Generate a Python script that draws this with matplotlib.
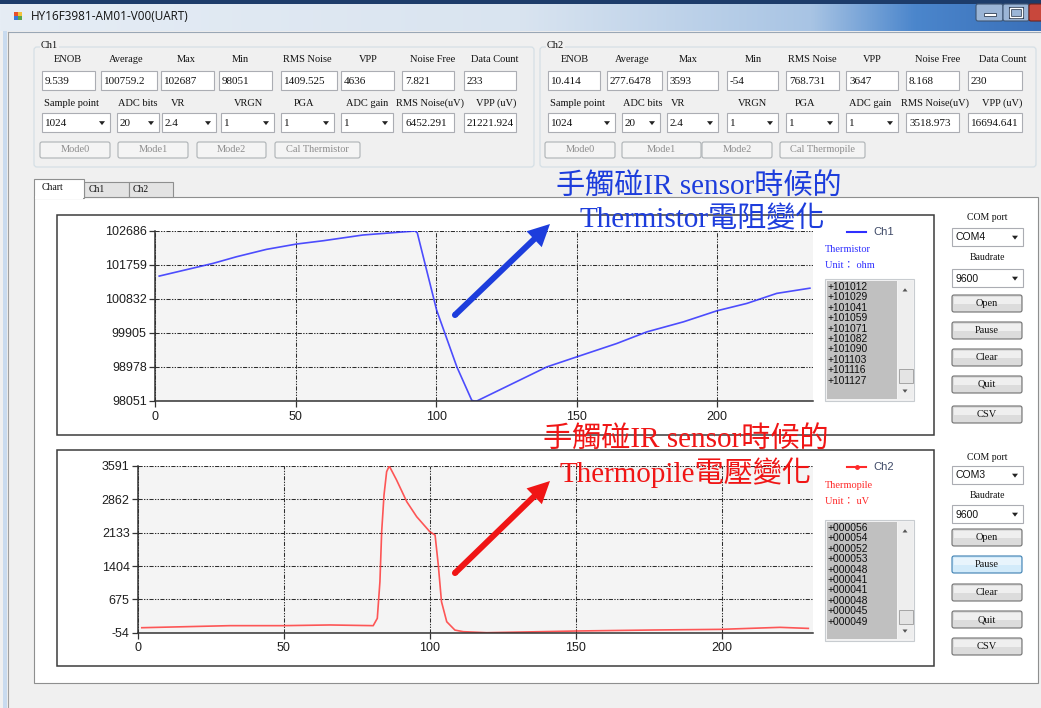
import matplotlib
matplotlib.use("Agg")
import matplotlib.pyplot as plt
import numpy as np
from matplotlib.patches import Rectangle, FancyBboxPatch, Polygon, FancyArrow, Circle
from matplotlib.colors import to_rgb

plt.rcParams["axes.unicode_minus"] = False

# ---- readings captured from the two channels ----
ch1_idx = [1.5, 20.7, 29, 39.7, 50.4, 59.9, 74, 92.5, 93.3, 100.2, 107.4, 112.7,
           113.5, 114.5, 139.4, 150, 164.3, 175, 188, 199.9, 210.6, 221.2, 233]
ch1_ohm = [101457, 101804, 101984, 102186, 102331, 102421, 102577, 102686, 102640,
           100528, 98980, 98070, 98051, 98051, 98980, 99253, 99619, 99936, 100209,
           100510, 100712, 100985, 101127]

ch2_idx = [1.3, 31.5, 49.8, 65.8, 80.6, 82, 82.9, 83.5, 84.3, 85.2, 86.1, 88.6,
           92.1, 95.5, 100, 101.8, 102.9, 104, 105.8, 108.6, 111.5, 119.5, 150,
           176.6, 199.5, 220, 229.7]
ch2_uv = [55, 100, 100, 115, 100, 260, 1060, 2154, 2957, 3467, 3591, 3285, 2810,
          2482, 2154, 2081, 1425, 623, 185, 3, -32, -54, -17, 5, 19, 63, 40]

ch1_yticks = [98051, 98978, 99905, 100832, 101759, 102686]
ch2_yticks = [-54, 675, 1404, 2133, 2862, 3591]
x_ticks = [0, 50, 100, 150, 200]

stat_names = ["ENOB", "Average", "Max", "Min", "RMS Noise", "VPP", "Noise Free", "Data Count"]
ch1_stats = ["9.539", "100759.2", "102687", "98051", "1409.525", "4636", "7.821", "233"]
ch2_stats = ["10.414", "277.6478", "3593", "-54", "768.731", "3647", "8.168", "230"]

setting_names = ["Sample point", "ADC bits", "VR", "VRGN", "PGA", "ADC gain",
                 "RMS Noise(uV)", "VPP (uV)"]
setting_values = ["1024", "20", "2.4", "1", "1", "1"]
ch1_noise_uv = ["6452.291", "21221.924"]
ch2_noise_uv = ["3518.973", "16694.641"]

ch1_list = ["+101012", "+101029", "+101041", "+101059", "+101071",
            "+101082", "+101090", "+101103", "+101116", "+101127"]
ch2_list = ["+000056", "+000054", "+000052", "+000053", "+000048",
            "+000041", "+000041", "+000048", "+000045", "+000049"]

W, H = 1041, 708
SERIF = ["Liberation Serif", "DejaVu Serif"]
SANS = ["Liberation Sans", "DejaVu Sans"]
CJK = ["Liberation Serif", "Noto Sans CJK TC", "DejaVu Sans"]

fig = plt.figure(figsize=(W / 100, H / 100), dpi=100)


def px_axes(z):
    a = fig.add_axes([0, 0, 1, 1], zorder=z)
    a.set_xlim(0, W)
    a.set_ylim(H, 0)
    a.axis("off")
    a.patch.set_alpha(0)
    return a


def frac(x0, y0, x1, y1):
    return [x0 / W, 1 - y1 / H, (x1 - x0) / W, (y1 - y0) / H]


ui = px_axes(0)
top = px_axes(3)


def rect(x0, y0, x1, y1, fc, ec="none", lw=0.8, z=1, ax=ui):
    ax.add_patch(Rectangle((x0, y0), x1 - x0, y1 - y0, fc=fc, ec=ec, lw=lw, zorder=z))


def rrect(x0, y0, x1, y1, fc, ec, r=2, lw=0.8, z=2):
    ui.add_patch(FancyBboxPatch((x0, y0), x1 - x0, y1 - y0,
                                boxstyle=f"round,pad=0,rounding_size={r}",
                                fc=fc, ec=ec, lw=lw, zorder=z))


def label(x, y, s, ha="center", size=7.5, color="#111111", family=SERIF, z=5, ax=ui):
    ax.text(x, y, s, ha=ha, va="center", fontsize=size, color=color,
            family=family, zorder=z)


def textbox(x0, y0, x1, y1, s, family=SERIF, size=8):
    rect(x0, y0, x1, y1, "white", "#abadb3", 0.8, z=2)
    label(x0 + 3, (y0 + y1) / 2 + 0.5, s, ha="left", size=size, family=family)


def down_tri(cx, cy, color="#222222", s=3):
    ui.add_patch(Polygon([[cx - s, cy - s * 0.6], [cx + s, cy - s * 0.6], [cx, cy + s * 0.7]],
                         closed=True, fc=color, ec="none", zorder=4))


def up_tri(cx, cy, color="#555555", s=3):
    ui.add_patch(Polygon([[cx - s, cy + s * 0.6], [cx + s, cy + s * 0.6], [cx, cy - s * 0.7]],
                         closed=True, fc=color, ec="none", zorder=4))


def combo(x0, y0, x1, y1, s, family=SERIF, size=8):
    textbox(x0, y0, x1, y1, s, family, size)
    down_tri(x1 - 8, (y0 + y1) / 2 + 0.5)


def button(x0, y0, x1, y1, s, state="normal"):
    if state == "disabled":
        rrect(x0, y0, x1, y1, "#f4f4f4", "#adb2b5")
        label((x0 + x1) / 2, (y0 + y1) / 2, s, size=7.5, color="#8d8d8d")
        return
    if state == "hot":
        rrect(x0, y0, x1, y1, "#d3ebfa", "#3c7fb1")
        rect(x0 + 1.5, y0 + 1.5, x1 - 1.5, (y0 + y1) / 2, "#e8f4fc", z=3)
    else:
        rrect(x0, y0, x1, y1, "#dcdcdc", "#707070")
        rect(x0 + 1.5, y0 + 1.5, x1 - 1.5, (y0 + y1) / 2, "#efefef", z=3)
    label((x0 + x1) / 2, (y0 + y1) / 2, s, size=7.5)


# ---- window chrome ----
stops = [0, 0.5, 0.78, 0.88, 1.0]
cols = ["#e6edf5", "#d9e4f0", "#a8c4e4", "#4b86cc", "#3a70b9"]
xs = np.linspace(0, 1, 400)
grad = np.array([np.interp(xs, stops, [to_rgb(c)[k] for c in cols]) for k in range(3)]).T
ui.imshow(grad[None, :, :], extent=(0, W, 31, 4), aspect="auto", zorder=0)
ui.set_xlim(0, W)
ui.set_ylim(H, 0)
rect(0, 0, W, 4, "#1d3c6a", z=1)
rect(0, 31, W, H, "#f0f0f0", z=0.5)
rect(3, 31, 7, H, "#c9dbef", z=1)
ui.plot([8, W], [32, 32], color="#9aa7b5", lw=0.8, zorder=1)
ui.plot([8, 8], [32, H], color="#a0a0a0", lw=0.8, zorder=1)

# title bar icon, caption and buttons
rect(14, 12, 18, 16, "#e8502c", z=2)
rect(18, 12, 22, 16, "#f2c23a", z=2)
rect(14, 16, 18, 20, "#3b78d8", z=2)
rect(18, 16, 22, 20, "#58a64a", z=2)
label(31, 17, "HY16F3981-AM01-V00(UART)", ha="left", size=8.5, family=["Open Sans", "DejaVu Sans"])
rrect(976, 4, 1003, 21, "#9bb5d6", "#3e5573", r=2)
rrect(1003, 4, 1029, 21, "#9bb5d6", "#3e5573", r=2)
rrect(1029, 4, 1050, 21, "#c8473c", "#6d241f", r=2)
rect(984, 13, 996, 16, "white", "#303f55", 0.6, z=3)
rect(1010, 8, 1022, 17, "none", "#303f55", 2.2, z=3)
rect(1010, 8, 1022, 17, "none", "white", 1.0, z=3)

# ---- Ch1 / Ch2 settings group boxes ----
ch1_label_x = [68, 126, 186, 240, 307, 368, 433, 495]
ch1_boxes = [(42, 95), (101, 157), (161, 214), (219, 272), (281, 337), (341, 394), (402, 454), (464, 516)]
ch1_set_x = [71, 138, 178, 248, 304, 367, 430, 496]
ch1_combo = [(42, 110), (117, 159), (162, 216), (221, 274), (281, 334), (341, 393)]
ch1_btns = [(40, 110, "Mode0"), (118, 188, "Mode1"), (197, 266, "Mode2"), (275, 360, "Cal Thermistor")]

ch2_label_x = [575, 632, 688, 753, 812, 872, 938, 1003]
ch2_boxes = [(548, 600), (607, 662), (667, 718), (727, 778), (786, 839), (846, 898), (906, 959), (968, 1022)]
ch2_set_x = [577, 643, 678, 752, 805, 870, 935, 1002]
ch2_combo = [(548, 615), (622, 660), (667, 718), (727, 778), (786, 838), (846, 898)]
ch2_btns = [(545, 615, "Mode0"), (622, 701, "Mode1"), (702, 772, "Mode2"), (780, 865, "Cal Thermopile")]


def settings_group(x0, x1, title, lab_x, boxes, stats, set_x, combos, noise, btns):
    rrect(x0, 47, x1, 167, "none", "#d5dfe5", r=3, lw=0.9, z=1)
    ui.text(x0 + 7, 45, title, ha="left", va="center", fontsize=7.5, family=SERIF,
            color="#111111", zorder=5,
            bbox=dict(fc="#f0f0f0", ec="none", pad=0.5))
    for lx, name in zip(lab_x, stat_names):
        label(lx, 60, name)
    for (bx0, bx1), val in zip(boxes, stats):
        textbox(bx0, 71, bx1, 90, val)
    for lx, name in zip(set_x, setting_names):
        label(lx, 103, name)
    for (bx0, bx1), val in zip(combos, setting_values):
        combo(bx0, 113, bx1, 132, val)
    for (bx0, bx1), val in zip(boxes[6:], noise):
        textbox(bx0, 113, bx1, 132, val)
    for bx0, bx1, name in btns:
        button(bx0, 142, bx1, 158, name, state="disabled")


settings_group(34, 534, "Ch1", ch1_label_x, ch1_boxes, ch1_stats, ch1_set_x,
               ch1_combo, ch1_noise_uv, ch1_btns)
settings_group(540, 1036, "Ch2", ch2_label_x, ch2_boxes, ch2_stats, ch2_set_x,
               ch2_combo, ch2_noise_uv, ch2_btns)

# ---- tab control ----
rect(34, 197, 1038, 683, "white", "#8e8f8f", 0.8, z=1)
rect(84, 182, 129, 197, "#e3e3e3", "#8e8f8f", 0.8, z=1)
rect(129, 182, 173, 197, "#e3e3e3", "#8e8f8f", 0.8, z=1)
rect(34, 179, 84, 198, "white", "#8e8f8f", 0.8, z=2)
rect(34.6, 196, 83.4, 199, "white", z=3)
label(53, 188, "Chart", size=7)
label(97, 190, "Ch1", size=7)
label(141, 190, "Ch2", size=7)

# chart frames
rect(57, 215, 934, 435, "white", "#3c3c3c", 1.1, z=2)
rect(57, 450, 934, 666, "white", "#3c3c3c", 1.1, z=2)


def chart(box, xs, ys, color, yticks, xmax):
    ax = fig.add_axes(frac(*box), zorder=1)
    ax.plot(xs, ys, color=color, lw=1.2, alpha=0.85, solid_joinstyle="round")
    ax.set_xlim(0, xmax)
    ax.set_ylim(yticks[0], yticks[-1])
    ax.set_xticks(x_ticks)
    ax.set_yticks(yticks)
    ax.set_facecolor("#f4f4f4")
    ax.grid(True, color="#2e2e2e", lw=0.75, ls=(0, (4, 1.3, 1.3, 1.3, 1.3, 1.3)))
    ax.set_axisbelow(True)
    for side in ("top", "right"):
        ax.spines[side].set_visible(False)
    for side in ("left", "bottom"):
        ax.spines[side].set_color("#333333")
        ax.spines[side].set_linewidth(1.1)
    ax.tick_params(length=4, width=0.9, color="#333333", labelsize=9,
                   labelcolor="#1e1e1e", pad=2)
    ax.tick_params(axis="x", pad=3)
    for t in ax.get_xticklabels() + ax.get_yticklabels():
        t.set_fontfamily(SANS)
    return ax


chart((155, 231, 812.7, 401), ch1_idx, ch1_ohm, "#2f2fff", ch1_yticks, 234)
chart((138, 466, 812.7, 632.7), ch2_idx, ch2_uv, "#ff3a3a", ch2_yticks, 231.2)


# ---- legends and data list boxes ----
def legend_block(y_line, name, color, sensor, unit, dot):
    ui.plot([847, 856.5, 866], [y_line] * 3, color=color, lw=1.5, zorder=4,
            marker="o" if dot else None, markevery=[1], ms=2.5)
    label(873, y_line, name, ha="left", size=8, color="#3d4866", family=SANS)
    label(825, y_line + 18, sensor, ha="left", size=7.5, color=color)
    label(825, y_line + 34, unit, ha="left", size=7.5, color=color, family=CJK)


def list_box(y0, y1, values, thumb):
    rect(825, y0, 914, y1, "#f3f3f3", "#c8ccd0", 0.8, z=2)
    rect(827, y0 + 2, 897, y1 - 2, "#c0c0c0", z=3)
    rect(898, y0 + 2, 913, y1 - 2, "#eeeeee", z=3)
    up_tri(905, y0 + 11, s=2.5)
    down_tri(905, y1 - 10, color="#555555", s=2.5)
    rect(898.5, thumb, 912.5, thumb + 14, "#e4e4e4", "#9a9a9a", 0.6, z=4)
    for i, v in enumerate(values):
        label(828, y0 + 8 + i * 10.4, v, ha="left", size=7.4, family=SANS, color="#0e0e0e")


legend_block(232, "Ch1", "#2f2fff", "Thermistor", "Unit： ohm", False)
list_box(279, 401, ch1_list, 369)
legend_block(467, "Ch2", "#ff2a2a", "Thermopile", "Unit： uV", True)
list_box(520, 641, ch2_list, 610)


# ---- serial port controls beside each chart ----
def side_panel(y_com, com_box, y_baud, baud_box, btn_tops, com_name, hot=None):
    label(987, y_com, "COM port", size=7)
    combo(952, com_box, 1023, com_box + 18, com_name, family=SANS, size=7.5)
    label(987, y_baud, "Baudrate", size=7)
    combo(952, baud_box, 1023, baud_box + 18, "9600", family=SANS, size=7.5)
    for i, (y, name) in enumerate(zip(btn_tops, ["Open", "Pause", "Clear", "Quit", "CSV"])):
        button(952, y, 1022, y + 17, name, state="hot" if i == hot else "normal")


side_panel(218, 228, 257, 269, [295, 322, 349, 376, 406], "COM4")
side_panel(458, 466, 495, 505, [529, 556, 584, 611, 638], "COM3", hot=1)

# ---- call-outs over the charts ----
BLUE = "#1d3ddc"
RED = "#f01515"
label(556, 186, "手觸碰IR sensor時候的", ha="left", size=21, color=BLUE, family=CJK, ax=top)
label(580, 220, "Thermistor電阻變化", ha="left", size=21, color=BLUE, family=CJK, ax=top)
label(543, 439, "手觸碰IR sensor時候的", ha="left", size=21, color=RED, family=CJK, ax=top)
label(560, 473, "Thermopile電壓變化", ha="left", size=21, color=RED, family=CJK, ax=top)

for (tx, ty, hx, hy), c in [((455, 315, 550, 224), BLUE), ((455, 573, 550, 481), RED)]:
    top.add_patch(FancyArrow(tx, ty, hx - tx, hy - ty, width=6, head_width=22,
                             head_length=22, length_includes_head=True,
                             fc=c, ec="none", zorder=5))
    top.add_patch(Circle((tx, ty), 3, fc=c, ec="none", zorder=5))

fig.savefig("out.png", dpi=100)
